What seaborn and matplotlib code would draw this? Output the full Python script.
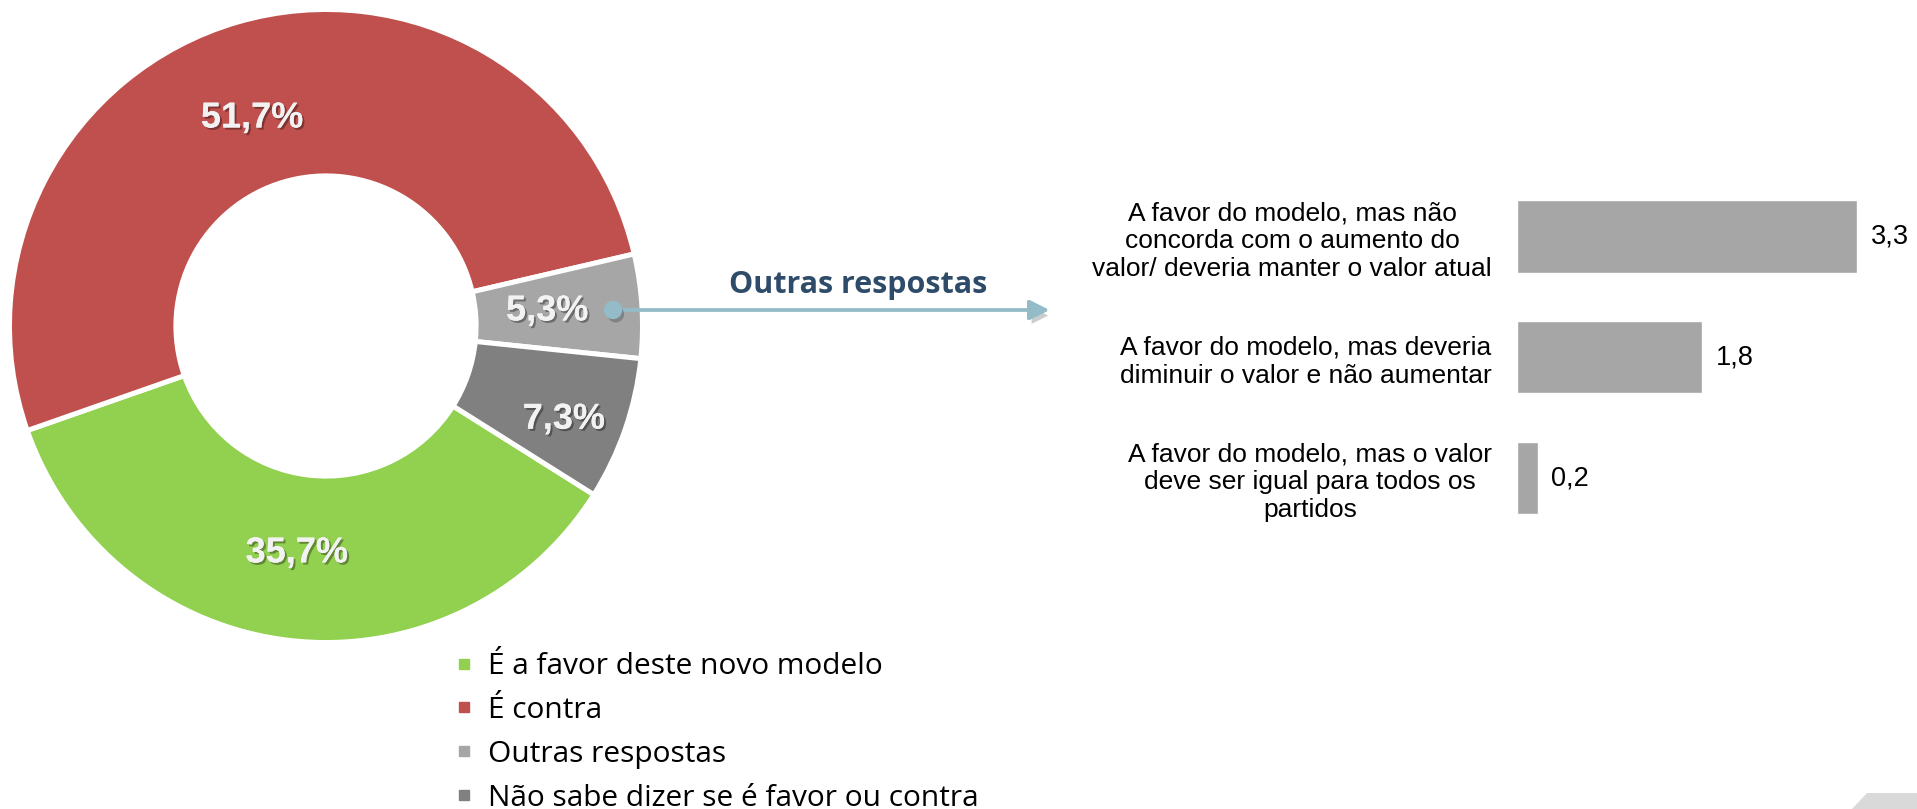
import matplotlib
matplotlib.use('Agg')
import matplotlib.pyplot as plt
import matplotlib.patheffects as pe
from matplotlib.patches import FancyArrowPatch, Polygon
from matplotlib.lines import Line2D
from matplotlib.transforms import ScaledTranslation
import seaborn as sns
import numpy as np

# 데이터
categorias = ['É a favor deste novo modelo', 'É contra', 'Outras respostas',
              'Não sabe dizer se é favor ou contra']
percentuais = [35.7, 51.7, 5.3, 7.3]
cores = ['#92D050', '#C0504D', '#A6A6A6', '#808080']

outras_labels = ['A favor do modelo, mas não\nconcorda com o aumento do\nvalor/ deveria manter o valor atual',
                 'A favor do modelo, mas deveria\ndiminuir o valor e não aumentar',
                 'A favor do modelo, mas o valor\ndeve ser igual para todos os\npartidos']
outras_valores = [3.3, 1.8, 0.2]

sns.set_theme(style='white')
plt.rcParams['font.family'] = ['Liberation Sans', 'DejaVu Sans']
plt.rcParams['text.color'] = 'black'

W, H = 1917, 809
fig = plt.figure(figsize=(W / 100, H / 100), dpi=100)

# 1. 도넛 차트
cx, cy, R = 326, 483, 314
half = 320
ax1 = fig.add_axes([(cx - half) / W, (cy - half) / H, 2 * half / W, 2 * half / H])
wedges, _ = ax1.pie(percentuais, colors=cores, startangle=-32.2, counterclock=False,
                    radius=1.008, wedgeprops=dict(width=0.53, edgecolor='white', linewidth=3.6))
ax1.set_xlim(-half / R, half / R)
ax1.set_ylim(-half / R, half / R)
ax1.set_aspect('equal')
ax1.axis('off')

# 라벨 위치 (반지름 비율, 각도 보정)
dist = [0.716, 0.715, 0.707, 0.809]
desvio = [-1.0, 3.0, 1.3, -1.5]
sombra = [pe.withSimplePatchShadow(offset=(1.5, -1.5), shadow_rgbFace='black', alpha=0.35), pe.Normal()]
desloc = ax1.transData + ScaledTranslation(0, -0.04, fig.dpi_scale_trans)
for w, p, d, a in zip(wedges, percentuais, dist, desvio):
    ang = np.deg2rad((w.theta1 + w.theta2) / 2 + a)
    ax1.text(d * np.cos(ang), d * np.sin(ang), f'{p:.1f}%'.replace('.', ','),
             ha='center', va='center', fontsize=26, fontweight='bold', color='#F2F2F2',
             path_effects=sombra, transform=desloc)

# 2. 범례
handles = [Line2D([], [], marker='s', linestyle='', markersize=7, color=c) for c in cores]
leg = fig.legend(handles, categorias, loc='upper left', bbox_to_anchor=(455 / W, 1 - 652 / H),
                 frameon=False, prop={'family': 'Open Sans', 'size': 21.5}, handlelength=0.6,
                 handletextpad=0.5, labelspacing=0.5, borderpad=0, borderaxespad=0)
for t in leg.get_texts():
    t.set_color('black')

# 3. 화살표 + 제목
seta_cor = '#93BCC8'
y_seta = H - 310
fig.add_artist(FancyArrowPatch((613 / W, y_seta / H), (1052 / W, y_seta / H),
                               transform=fig.transFigure, arrowstyle='-|>,head_length=0.6,head_width=0.3',
                               mutation_scale=20, color=seta_cor, lw=2.4,
                               path_effects=[pe.withSimplePatchShadow(offset=(2, -4), alpha=0.25), pe.Normal()]))
fig.add_artist(Line2D([613 / W], [y_seta / H], transform=fig.transFigure, marker='o',
                      markersize=12, color=seta_cor,
                      path_effects=[pe.withSimplePatchShadow(offset=(2, -3), alpha=0.3), pe.Normal()]))
fig.text(858 / W, 1 - 285 / H, 'Outras respostas', ha='center', va='center',
         family='Open Sans', fontweight='bold', fontsize=22, color='#2E4C69')

# 4. 막대 그래프
ax2 = fig.add_axes([1517 / W, 1 - 538.4 / H, 340 / W, 362.4 / H])
sns.barplot(x=outras_valores, y=outras_labels, orient='h', color='#A6A6A6',
            saturation=1, width=0.6, ax=ax2)
ax2.set_xlim(0, 3.3)
ax2.set_ylim(2.5, -0.5)
ax2.bar_label(ax2.containers[0], labels=[f'{v:.1f}'.replace('.', ',') for v in outras_valores],
              padding=10, fontsize=19.5, color='black')
ax2.set_xticks([])
ax2.tick_params(axis='y', length=0, pad=18, labelsize=19, labelcolor='black')
for lbl in ax2.get_yticklabels():
    lbl.set_multialignment('center')
sns.despine(ax=ax2, left=True, bottom=True)
ax2.set_xlabel('')
ax2.set_ylabel('')

# 5. 오른쪽 아래 장식
fig.add_artist(Polygon([[1852 / W, 0], [1867 / W, 16 / H], [1, 16 / H], [1, 0]],
                       closed=True, transform=fig.transFigure, color='#D9D9D9', lw=0))

plt.savefig('out.png', dpi=100)
